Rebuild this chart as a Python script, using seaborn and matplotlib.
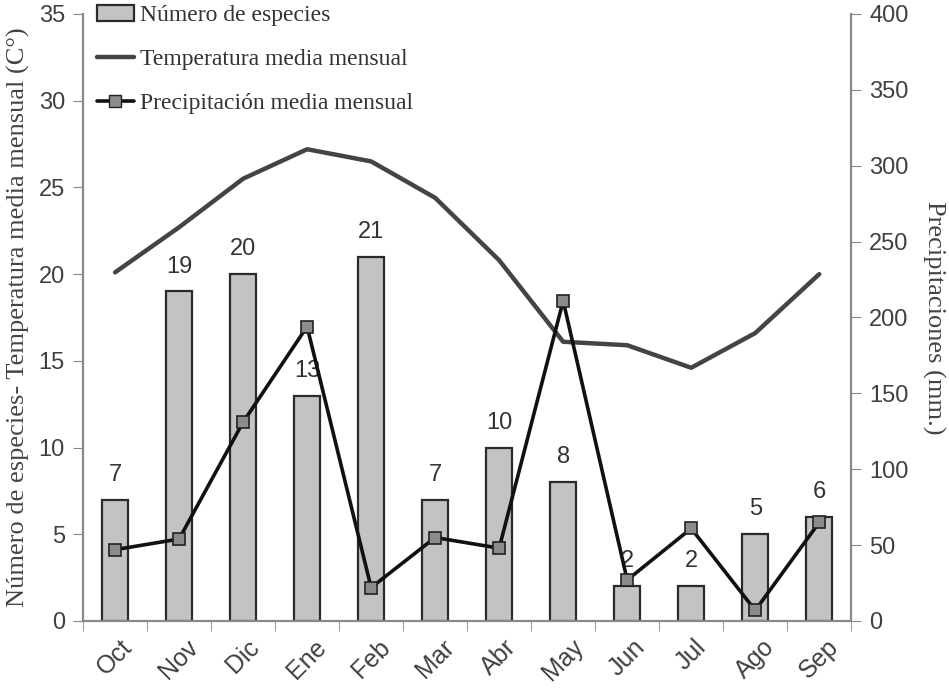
import numpy as np
import pandas as pd
import seaborn as sns
import matplotlib.pyplot as plt
from matplotlib.patches import Patch
from matplotlib.lines import Line2D

meses = ["Oct", "Nov", "Dic", "Ene", "Feb", "Mar", "Abr", "May", "Jun", "Jul", "Ago", "Sep"]
especies = [7, 19, 20, 13, 21, 7, 10, 8, 2, 2, 5, 6]
temperatura = [20.1, 22.7, 25.5, 27.2, 26.5, 24.4, 20.8, 16.1, 15.9, 14.6, 16.6, 20.0]
precipitacion = [47, 54, 131, 194, 22, 55, 48, 211, 27, 61, 7, 65]

sns.set_style("ticks")
plt.rcParams['font.family'] = ['Liberation Sans', 'DejaVu Sans']

df = pd.DataFrame({"mes": meses, "pos": np.arange(len(meses)), "especies": especies,
                   "temp": temperatura, "prec": precipitacion})

fig = plt.figure(figsize=(9.49, 6.88), dpi=100)
ax = fig.add_axes([0.0875, 0.0974, 0.8095, 0.8823])

sns.barplot(data=df, x="pos", y="especies", ax=ax, color="#c3c3c3", width=0.4,
            edgecolor="#2b2b2b", linewidth=1.6, saturation=1, native_scale=True)
sns.lineplot(data=df, x="pos", y="temp", ax=ax, color="#444444", linewidth=3.2, sort=False)

for cont in ax.containers:
    ax.bar_label(cont, padding=10, fontsize=17, color="#333333")

ax.set_xlim(-0.5, 11.5)
ax.set_ylim(0, 35)
ax.set_yticks(range(0, 36, 5))
ax.set_xticks(df["pos"])
ax.set_xticklabels(meses, rotation=45, ha="center", fontsize=18, color="#404040")
ax.set_xticks(np.arange(-0.5, 12, 1), minor=True)
ax.tick_params(axis="x", which="major", length=0, pad=10)
ax.tick_params(axis="x", which="minor", length=7, color="#888888")
ax.tick_params(axis="y", length=7, color="#888888", labelsize=17, labelcolor="#404040", pad=6)
ax.set_xlabel("")
ax.set_ylabel("Número de especies- Temperatura media mensual (C°)", family="Liberation Serif",
              fontsize=19, color="#444444", labelpad=6)

ax2 = ax.twinx()
sns.lineplot(data=df, x="pos", y="prec", ax=ax2, color="#111111", linewidth=2.6, sort=False,
             marker="s", markersize=9, markerfacecolor="#8c8c8c", markeredgecolor="#222222",
             markeredgewidth=1.2)
ax2.set_ylim(0, 400)
ax2.set_yticks(range(0, 401, 50))
ax2.tick_params(axis="y", length=7, color="#888888", labelsize=17, labelcolor="#404040", pad=6)
ax2.set_ylabel("Precipitaciones (mm.)", family="Liberation Serif", fontsize=19,
               color="#444444", rotation=-90, labelpad=26)

for a in (ax, ax2):
    a.spines["top"].set_visible(False)
    for s in ("left", "right", "bottom"):
        a.spines[s].set_color("#888888")
        a.spines[s].set_linewidth(1.5)

handles = [
    Patch(facecolor="#c3c3c3", edgecolor="#2b2b2b", linewidth=1.6),
    Line2D([], [], color="#444444", linewidth=3.2),
    Line2D([], [], color="#111111", linewidth=2.6, marker="s", markersize=9,
           markerfacecolor="#8c8c8c", markeredgecolor="#222222"),
]
labels = ["Número de especies", "Temperatura media mensual", "Precipitación media mensual"]
ax2.legend(handles, labels, loc="upper left", bbox_to_anchor=(-0.01, 1.05), frameon=False,
           prop={"family": "Liberation Serif", "size": 17}, labelspacing=0.95,
           handlelength=1.6, handletextpad=0.25, labelcolor="#333333")

fig.savefig("out.png", dpi=100)
